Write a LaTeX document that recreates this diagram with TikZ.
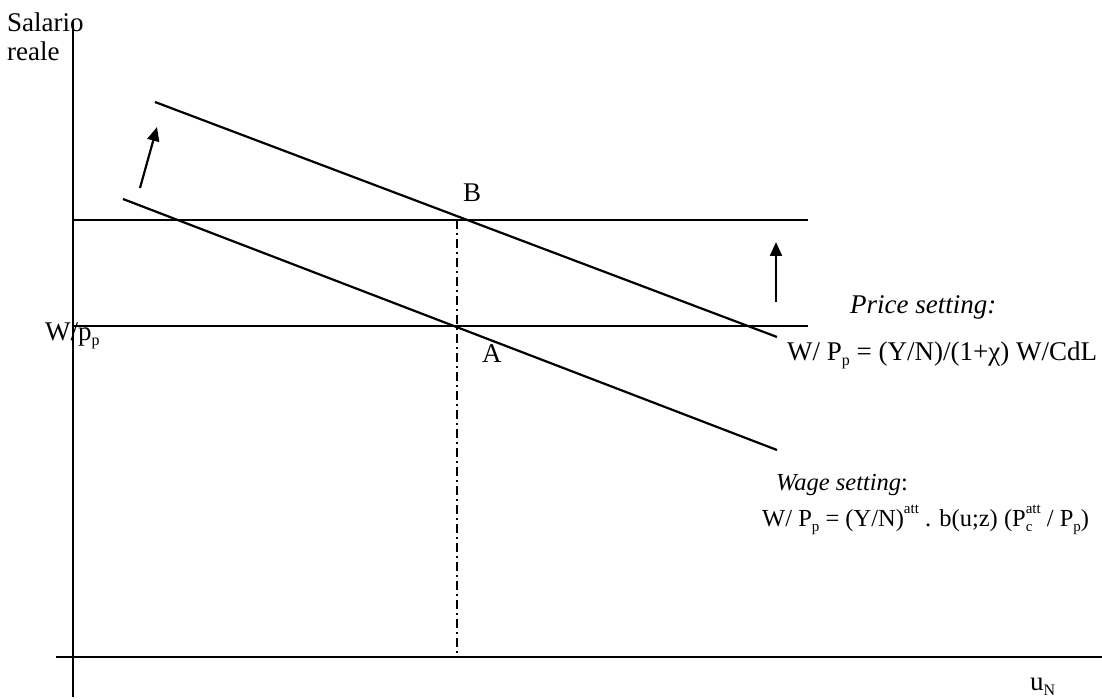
\documentclass[tikz,border=0pt]{standalone}
\usepackage{fontspec}
\setmainfont{Liberation Serif}
\usetikzlibrary{arrows.meta}
\newcommand\sbx[1]{\raisebox{-0.22em}{\fontsize{16}{17}\selectfont #1}}
\newcommand\spx[1]{\raisebox{0.5em}{\fontsize{16}{17}\selectfont #1}}
\newcommand\sbs[1]{\raisebox{-0.22em}{\fontsize{15}{16}\selectfont #1}}
\newcommand\sps[1]{\raisebox{0.5em}{\fontsize{15}{16}\selectfont #1}}
\begin{document}
\begin{tikzpicture}[x=1pt,y=-1pt,
  ln/.style={line width=2.2pt},
  arr/.style={line width=2.2pt,-{Triangle[length=14pt,width=12pt]}},
  lbl/.style={anchor=base west,inner sep=0pt,font=\fontsize{27}{30}\selectfont},
  small/.style={anchor=base west,inner sep=0pt,font=\fontsize{24.5}{27}\selectfont},
  ddot/.style={line width=1.8pt,dash pattern=on 9pt off 4pt on 2pt off 4pt}]
\useasboundingbox (0,0) rectangle (1102,700);
% axes
\coordinate (yb) at (73,697);
\coordinate (yt) at (73,22);
\coordinate (xl) at (56,657);
\coordinate (xr) at (1102,657);
\draw[ln] (yb) -- (yt);
\draw[ln] (xl) -- (xr);
% horizontal price-setting lines
\coordinate (h1l) at (73,220); \coordinate (h1r) at (808,220);
\coordinate (h2l) at (73,326); \coordinate (h2r) at (808,326);
\draw[ln] (h1l) -- (h1r);
\draw[ln] (h2l) -- (h2r);
% wage setting lines
\coordinate (w1a) at (155,102); \coordinate (w1b) at (777,337);
\coordinate (w2a) at (123,199); \coordinate (w2b) at (777,450);
\draw[ln] (w1a) -- (w1b);
\draw[ln] (w2a) -- (w2b);
% dash-dot
\coordinate (dt) at (457,220); \coordinate (db) at (457,657);
\draw[ddot] (dt) -- (db);
% arrows
\coordinate (a1s) at (140,188); \coordinate (a1e) at (157,127);
\draw[arr] (a1s) -- (a1e);
\coordinate (a2s) at (776,302); \coordinate (a2e) at (776,242);
\draw[arr] (a2s) -- (a2e);
% labels
\node[lbl] (sal) at (7,32) {Salario};
\node[lbl] (rea) at (7,61) {reale};
\node[lbl] (wp) at (45,340) {W/p\sbx{p}};
\node[lbl] (B) at (463,202) {B};
\node[lbl] (A) at (482,362) {A};
\node[lbl] (ps) at (850,314) {\itshape Price setting:};
\node[lbl] (pf) at (787,360) {W/ P\sbx{p} = (Y/N)/(1+χ) W/CdL};
\node[small] (ws) at (776,490) {\textit{Wage setting}:};
\node[small] (wf) at (762,526) {W/ P\sbs{p} = (Y/N)\sps{att} . b(u;z) (P\rlap{\sbs{c}}\sps{att} / P\sbs{p})};
\node[lbl] (uN) at (1030,690) {u\sbx{N}};
\end{tikzpicture}
\end{document}
